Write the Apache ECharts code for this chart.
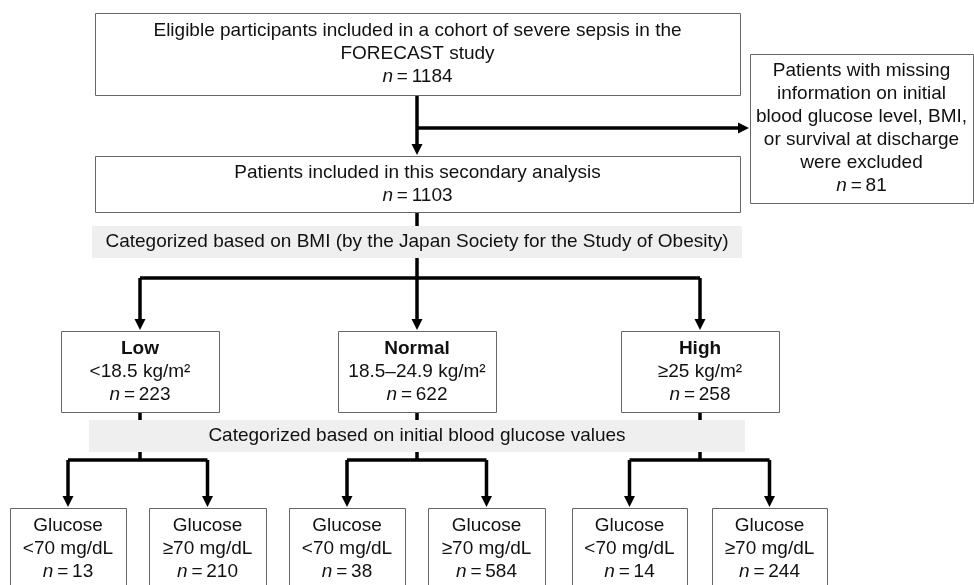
<!DOCTYPE html>
<html>
<head>
<meta charset="utf-8">
<script src="https://cdn.jsdelivr.net/npm/echarts@6/dist/echarts.min.js"></script>
<style>
  html, body { margin: 0; padding: 0; background: #fff; }
  #chart { width: 974px; height: 585px; }
</style>
</head>
<body>
<div id="chart"></div>
<script>
// flow chart values
const enrolledText = ['Eligible participants included in a cohort of severe sepsis in the', 'FORECAST study']
const enrolledN = 1184
const excludedText = ['Patients with missing', 'information on initial', 'blood glucose level, BMI,', 'or survival at discharge', 'were excluded']
const excludedN = 81
const analysedText = ['Patients included in this secondary analysis']
const analysedN = 1103
const bmiStepText = 'Categorized based on BMI (by the Japan Society for the Study of Obesity)'
const bmiGroups = ['Low', 'Normal', 'High']
const bmiRanges = ['<18.5 kg/m\u00b2', '18.5\u201324.9 kg/m\u00b2', '\u226525 kg/m\u00b2']
const bmiN = [223, 622, 258]
const glucoseStepText = 'Categorized based on initial blood glucose values'
const glucoseCats = ['<70 mg/dL', '\u226570 mg/dL']
const glucoseN = [13, 210, 38, 584, 14, 244]

// layout (x0, y0, x1, y1 in page units)
const enrolledBox = [95, 13, 740, 95]
const excludedBox = [750, 54, 973, 203]
const analysedBox = [95, 156, 740, 212]
const bmiBand = [92, 226, 742, 258]
const glucoseBand = [89, 420, 745, 452]
const bmiBoxes = [[61, 331, 219, 412], [338, 331, 496, 412], [621, 331, 779, 412]]
const glucoseBoxes = [[10, 508, 126, 592], [149, 508, 266, 592], [289, 508, 405, 592],
  [428, 508, 545, 592], [572, 508, 687, 592], [712, 508, 827, 592]]

const FONT = 'Liberation Sans, Arial, Helvetica, sans-serif'
const FS = 19
const LH = 23
const rich = {
  r: { fontFamily: FONT, fontSize: FS, fill: '#111', lineHeight: LH },
  i: { fontFamily: FONT, fontSize: FS, fill: '#111', fontStyle: 'italic', lineHeight: LH },
  b: { fontFamily: FONT, fontSize: FS, fill: '#111', fontWeight: 'bold', lineHeight: LH }
}
function nLine (n) {
  return '{i|n}{r|\u2009=\u2009' + n + '}'
}
function plain (s) {
  return '{r|' + s + '}'
}

// boxes: rect + label
let boxData = []
let boxLabels = []
boxData.push(enrolledBox)
boxLabels.push(enrolledText.map(plain).concat([nLine(enrolledN)]).join('\n'))
boxData.push(excludedBox)
boxLabels.push(excludedText.map(plain).concat([nLine(excludedN)]).join('\n'))
boxData.push(analysedBox)
boxLabels.push(analysedText.map(plain).concat([nLine(analysedN)]).join('\n'))
bmiGroups.forEach(function (g, k) {
  boxData.push(bmiBoxes[k])
  boxLabels.push(['{b|' + g + '}', plain(bmiRanges[k]), nLine(bmiN[k])].join('\n'))
})
glucoseN.forEach(function (n, k) {
  boxData.push(glucoseBoxes[k])
  boxLabels.push([plain('Glucose'), plain(glucoseCats[k % 2]), nLine(n)].join('\n'))
})
const glucoseTextTop = 514

// grey step bands
const bandData = [bmiBand, glucoseBand]
const bandLabels = [bmiStepText, glucoseStepText]

// connectors: [points, arrow at end]
function cx (b) { return (b[0] + b[2]) / 2 }
let links = []
links.push({ pts: [[417, enrolledBox[3]], [417, analysedBox[1] - 1]], arrow: true })
links.push({ pts: [[417, 128], [excludedBox[0] - 1, 128]], arrow: true })
links.push({ pts: [[417, analysedBox[3]], [417, 278]], arrow: false })
links.push({ pts: [[cx(bmiBoxes[0]), 278], [cx(bmiBoxes[2]), 278]], arrow: false })
bmiBoxes.forEach(function (b) {
  links.push({ pts: [[cx(b), 278], [cx(b), b[1] - 1]], arrow: true })
  links.push({ pts: [[cx(b), b[3]], [cx(b), 460]], arrow: false })
})
for (let k = 0; k < 3; k++) {
  let l = glucoseBoxes[2 * k]
  let r = glucoseBoxes[2 * k + 1]
  links.push({ pts: [[cx(l), 460], [cx(r), 460]], arrow: false })
  links.push({ pts: [[cx(l), 460], [cx(l), l[1] - 1]], arrow: true })
  links.push({ pts: [[cx(r), 460], [cx(r), r[1] - 1]], arrow: true })
}

let chart = echarts.init(document.getElementById('chart'))
chart.setOption({
  animation: false,
  backgroundColor: '#fff',
  grid: { left: 0, right: 0, top: 0, bottom: 0 },
  xAxis: { type: 'value', min: 0, max: 974, show: false },
  yAxis: { type: 'value', min: 0, max: 585, inverse: true, show: false },
  series: [
    {
      type: 'custom',
      name: 'links',
      clip: false,
      z: 1,
      data: links.map(function (l, k) { return [l.pts[0][0], l.pts[0][1], k] }),
      encode: { x: 0, y: 1 },
      renderItem: function (params, api) {
        let l = links[params.dataIndex]
        let pts = l.pts.map(function (p) { return api.coord(p) })
        let children = []
        let linePts = pts.slice()
        if (l.arrow) {
          let a = pts[pts.length - 2]
          let e = pts[pts.length - 1]
          let dx = e[0] - a[0]
          let dy = e[1] - a[1]
          let len = Math.sqrt(dx * dx + dy * dy)
          let ux = dx / len
          let uy = dy / len
          let hl = 11
          let hw = 5.5
          let base = [e[0] - ux * hl, e[1] - uy * hl]
          linePts[linePts.length - 1] = [e[0] - ux * (hl - 2), e[1] - uy * (hl - 2)]
          children.push({
            type: 'polygon',
            shape: { points: [e, [base[0] - uy * hw, base[1] + ux * hw], [base[0] + uy * hw, base[1] - ux * hw]] },
            style: { fill: '#000' }
          })
        }
        children.push({
          type: 'polyline',
          shape: { points: linePts },
          style: { stroke: '#000', lineWidth: 3.5, fill: null, lineCap: 'butt' }
        })
        return { type: 'group', children: children }
      }
    },
    {
      type: 'custom',
      name: 'bands',
      clip: false,
      z: 2,
      data: bandData,
      encode: { x: [0, 2], y: [1, 3] },
      renderItem: function (params, api) {
        let b = bandData[params.dataIndex]
        let p0 = api.coord([b[0], b[1]])
        let p1 = api.coord([b[2], b[3]])
        return {
          type: 'group',
          children: [{
            type: 'rect',
            shape: { x: p0[0], y: p0[1], width: p1[0] - p0[0], height: p1[1] - p0[1] },
            style: { fill: '#efefef' }
          }, {
            type: 'text',
            x: (p0[0] + p1[0]) / 2,
            y: (p0[1] + p1[1]) / 2,
            style: {
              text: bandLabels[params.dataIndex],
              fontFamily: FONT,
              fontSize: FS,
              fill: '#111',
              align: 'center',
              verticalAlign: 'middle'
            }
          }]
        }
      }
    },
    {
      type: 'custom',
      name: 'boxes',
      clip: false,
      z: 3,
      data: boxData,
      encode: { x: [0, 2], y: [1, 3] },
      renderItem: function (params, api) {
        let b = boxData[params.dataIndex]
        let p0 = api.coord([b[0], b[1]])
        let p1 = api.coord([b[2], b[3]])
        let isGlucose = params.dataIndex >= 6
        let ty = isGlucose ? api.coord([0, glucoseTextTop])[1] : (p0[1] + p1[1]) / 2
        return {
          type: 'group',
          children: [{
            type: 'rect',
            shape: { x: Math.round(p0[0]) + 0.5, y: Math.round(p0[1]) + 0.5, width: Math.round(p1[0] - p0[0]), height: Math.round(p1[1] - p0[1]) },
            style: { fill: '#fff', stroke: '#666', lineWidth: 1 }
          }, {
            type: 'text',
            x: (p0[0] + p1[0]) / 2,
            y: ty,
            style: {
              text: boxLabels[params.dataIndex],
              rich: rich,
              fontFamily: FONT,
              fontSize: FS,
              lineHeight: LH,
              align: 'center',
              verticalAlign: isGlucose ? 'top' : 'middle'
            }
          }]
        }
      }
    }
  ]
})
</script>
</body>
</html>
